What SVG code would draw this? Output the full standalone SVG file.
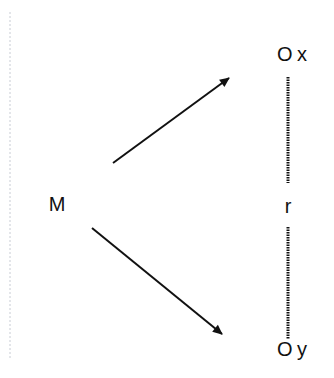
<svg xmlns="http://www.w3.org/2000/svg" width="334" height="378" viewBox="0 0 334 378">
<style>
.t{font-family:"Liberation Sans",Arial,sans-serif;font-size:20px;fill:#111}
.a{stroke:#111;stroke-width:2;fill:none}
.d{stroke:#111;stroke-width:3;stroke-dasharray:1.5 1;fill:none}
</style>
<defs>
<marker id="ah" viewBox="0 0 10 10" refX="9" refY="5" markerWidth="12" markerHeight="10" orient="auto" markerUnits="userSpaceOnUse">
<path d="M0,0.5 L10,5 L0,9.5 z" fill="#111"/>
</marker>
</defs>
<rect width="334" height="378" fill="#fff"/>
<line x1="10" y1="12" x2="10" y2="360" stroke="#c8ccd4" stroke-width="1" stroke-dasharray="2 2"/>
<g id="node-M"><text class="t" x="57" y="211" text-anchor="middle">M</text></g>
<g id="node-x"><text class="t" x="277" y="61">O</text><text class="t" x="297" y="61">x</text></g>
<g id="node-y"><text class="t" x="277" y="356">O</text><text class="t" x="297" y="356">y</text></g>
<g id="node-r"><text class="t" x="288" y="213" text-anchor="middle">r</text></g>
<g id="connectors">
<line class="a" x1="113" y1="163" x2="229" y2="78" marker-end="url(#ah)"/>
<line class="a" x1="92" y1="228" x2="222" y2="334" marker-end="url(#ah)"/>
<line class="d" x1="288" y1="77" x2="288" y2="183"/>
<line class="d" x1="288" y1="227" x2="288" y2="339"/>
</g>
</svg>
